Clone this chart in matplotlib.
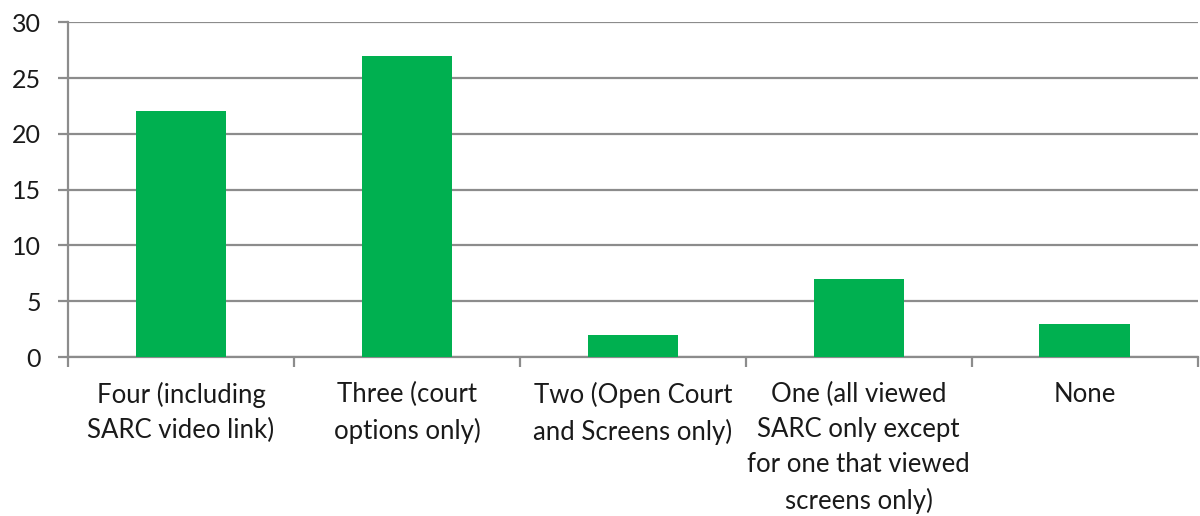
import numpy as np
import matplotlib
matplotlib.use("Agg")
import matplotlib.pyplot as plt

# Data
categories = [
    "Four (including\nSARC video link)",
    "Three (court\noptions only)",
    "Two (Open Court\nand Screens only)",
    "One (all viewed\nSARC only except\nfor one that viewed\nscreens only)",
    "None",
]
counts = [22, 27, 2, 7, 3]
y_ticks = [0, 5, 10, 15, 20, 25, 30]

plt.rcParams['font.family'] = ['Lato', 'DejaVu Sans']

grid_col = '#8c8c8c'
bar_col = '#00b050'

fig = plt.figure(figsize=(12, 5.16), dpi=100)
ax = fig.add_axes([0.0567, 0.308, 0.9413, 0.649])

x = np.arange(len(categories))
ax.bar(x, counts, width=0.4, color=bar_col, zorder=3)

ax.set_xlim(-0.5, len(categories) - 0.5)
ax.set_ylim(0, 30)
ax.set_yticks(y_ticks)
ax.yaxis.grid(True, color=grid_col, linewidth=1.6, zorder=0)

ax.set_xticks(x)
ax.set_xticklabels(categories, fontsize=18.5, linespacing=1.5, color='#1a1a1a')
ax.set_xticks(np.arange(-0.5, len(categories)), minor=True)
ax.tick_params(axis='x', which='major', length=0, pad=18)
ax.tick_params(axis='x', which='minor', length=7.5, width=1.6, color=grid_col)
ax.tick_params(axis='y', length=7.5, width=1.6, color=grid_col, pad=12,
               labelsize=18, labelcolor='#1a1a1a')

for side in ['top', 'right']:
    ax.spines[side].set_visible(False)
for side in ['left', 'bottom']:
    ax.spines[side].set_color(grid_col)
    ax.spines[side].set_linewidth(1.6)

fig.savefig('out.png', dpi=100)
